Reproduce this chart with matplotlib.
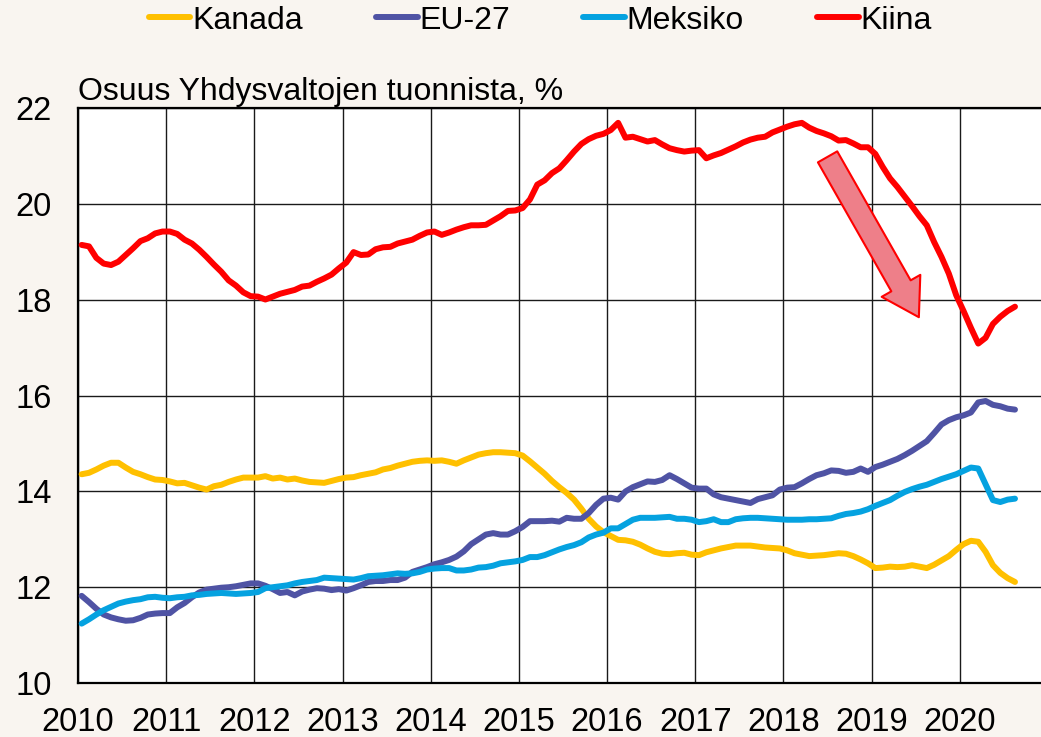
import matplotlib
matplotlib.use("Agg")
import matplotlib.pyplot as plt
import numpy as np

plt.rcParams['font.family'] = ['Liberation Sans', 'DejaVu Sans']

# kuukausittaiset osuudet 1/2010 - 8/2020
start_year = 2010
years = list(range(2010, 2021))

kanada = [
    14.36, 14.39, 14.46, 14.54, 14.60, 14.60, 14.50, 14.41, 14.36, 14.30, 14.25, 14.24,
    14.21, 14.17, 14.18, 14.13, 14.08, 14.04, 14.11, 14.14, 14.20, 14.25, 14.29, 14.29,
    14.29, 14.32, 14.27, 14.29, 14.25, 14.27, 14.23, 14.20, 14.19, 14.18, 14.22, 14.26,
    14.29, 14.30, 14.34, 14.37, 14.40, 14.46, 14.49, 14.54, 14.58, 14.62, 14.64, 14.65,
    14.64, 14.65, 14.62, 14.58, 14.65, 14.71, 14.77, 14.80, 14.82, 14.82, 14.81, 14.80,
    14.75, 14.63, 14.50, 14.37, 14.22, 14.09, 13.97, 13.83, 13.64, 13.43, 13.27, 13.15,
    13.07, 12.99, 12.98, 12.95, 12.89, 12.81, 12.74, 12.70, 12.69, 12.71, 12.72, 12.68,
    12.67, 12.73, 12.77, 12.81, 12.84, 12.87, 12.87, 12.87, 12.85, 12.83, 12.82, 12.81,
    12.77, 12.71, 12.68, 12.65, 12.66, 12.67, 12.69, 12.71, 12.70, 12.65, 12.58, 12.50,
    12.40, 12.41, 12.43, 12.42, 12.43, 12.46, 12.43, 12.40, 12.47, 12.56, 12.65, 12.78,
    12.90, 12.97, 12.95, 12.74, 12.46, 12.30, 12.19, 12.11,
]

eu27 = [
    11.82, 11.69, 11.55, 11.43, 11.37, 11.33, 11.30, 11.31, 11.36, 11.43, 11.45, 11.46,
    11.46, 11.58, 11.67, 11.79, 11.89, 11.95, 11.97, 11.99, 12.00, 12.02, 12.05, 12.08,
    12.08, 12.03, 11.96, 11.88, 11.90, 11.83, 11.91, 11.95, 11.98, 11.97, 11.94, 11.96,
    11.93, 11.98, 12.04, 12.11, 12.13, 12.13, 12.15, 12.15, 12.20, 12.32, 12.37, 12.42,
    12.48, 12.52, 12.57, 12.64, 12.75, 12.90, 13.00, 13.10, 13.13, 13.10, 13.10, 13.17,
    13.26, 13.38, 13.38, 13.38, 13.39, 13.37, 13.45, 13.43, 13.43, 13.55, 13.72, 13.85,
    13.87, 13.83, 14.00, 14.09, 14.15, 14.21, 14.20, 14.24, 14.34, 14.26, 14.17, 14.08,
    14.06, 14.06, 13.94, 13.88, 13.85, 13.82, 13.79, 13.76, 13.84, 13.88, 13.92, 14.04,
    14.08, 14.09, 14.17, 14.26, 14.34, 14.38, 14.44, 14.43, 14.39, 14.41, 14.48, 14.41,
    14.51, 14.56, 14.62, 14.68, 14.76, 14.85, 14.95, 15.05, 15.22, 15.40, 15.49, 15.55,
    15.59, 15.65, 15.86, 15.89, 15.81, 15.78, 15.73, 15.71,
]

meksiko = [
    11.24, 11.33, 11.43, 11.52, 11.59, 11.66, 11.70, 11.73, 11.75, 11.79, 11.80, 11.78,
    11.77, 11.79, 11.80, 11.83, 11.84, 11.86, 11.87, 11.88, 11.87, 11.86, 11.87, 11.88,
    11.90, 11.98, 12.00, 12.02, 12.04, 12.08, 12.11, 12.13, 12.15, 12.20, 12.19, 12.18,
    12.17, 12.16, 12.19, 12.23, 12.24, 12.25, 12.27, 12.29, 12.28, 12.29, 12.32, 12.37,
    12.39, 12.40, 12.40, 12.35, 12.35, 12.37, 12.41, 12.42, 12.45, 12.50, 12.52, 12.54,
    12.57, 12.63, 12.63, 12.67, 12.73, 12.79, 12.84, 12.88, 12.94, 13.04, 13.10, 13.14,
    13.23, 13.23, 13.32, 13.41, 13.45, 13.45, 13.45, 13.46, 13.47, 13.43, 13.43, 13.41,
    13.36, 13.38, 13.42, 13.36, 13.36, 13.42, 13.44, 13.45, 13.45, 13.44, 13.43, 13.42,
    13.41, 13.41, 13.41, 13.42, 13.42, 13.43, 13.44, 13.49, 13.53, 13.55, 13.58, 13.63,
    13.70, 13.76, 13.82, 13.91, 13.99, 14.05, 14.10, 14.14, 14.20, 14.26, 14.31, 14.36,
    14.43, 14.50, 14.48, 14.15, 13.82, 13.78, 13.83, 13.85,
]

kiina = [
    19.15, 19.12, 18.88, 18.76, 18.73, 18.80, 18.94, 19.08, 19.23, 19.29, 19.39, 19.43,
    19.43, 19.38, 19.26, 19.18, 19.05, 18.90, 18.74, 18.59, 18.41, 18.30, 18.16, 18.08,
    18.07, 18.01, 18.07, 18.13, 18.17, 18.21, 18.28, 18.30, 18.38, 18.45, 18.53, 18.66,
    18.78, 19.00, 18.94, 18.95, 19.06, 19.10, 19.11, 19.18, 19.22, 19.26, 19.34, 19.41,
    19.43, 19.36, 19.41, 19.47, 19.52, 19.56, 19.56, 19.57, 19.66, 19.75, 19.86, 19.87,
    19.92, 20.10, 20.41, 20.50, 20.65, 20.75, 20.92, 21.10, 21.26, 21.36, 21.43, 21.47,
    21.55, 21.70, 21.39, 21.41, 21.36, 21.31, 21.34, 21.25, 21.17, 21.13, 21.10, 21.12,
    21.13, 20.96, 21.02, 21.07, 21.14, 21.21, 21.29, 21.35, 21.39, 21.41, 21.50, 21.56,
    21.62, 21.67, 21.70, 21.60, 21.53, 21.48, 21.42, 21.33, 21.34, 21.27, 21.19, 21.19,
    21.05, 20.78, 20.54, 20.36, 20.16, 19.96, 19.75, 19.56, 19.21, 18.90, 18.55, 18.10,
    17.77, 17.42, 17.09, 17.21, 17.50, 17.65, 17.77, 17.86,
]

series_names = ["Kanada", "EU-27", "Meksiko", "Kiina"]
series_colors = ["#FFC000", "#4F53A4", "#05A2E0", "#FF0000"]

# nuolen alku- ja loppupiste (vuosi, %)
arrow_start = (2018.50, 20.99)
arrow_end = (2019.535, 17.64)


def main():
    bg = "#F9F5F0"
    fig = plt.figure(figsize=(10.41, 7.37), dpi=100, facecolor=bg)
    ax = fig.add_axes([0.0749, 0.0733, 0.9251, 0.7795])
    ax.set_facecolor("white")

    n = len(kiina)
    x = start_year + (np.arange(n) + 0.5) / 12

    for vals, name, col in zip([kanada, eu27, meksiko, kiina], series_names, series_colors):
        ax.plot(x, vals, color=col, lw=4.3, label=name, solid_capstyle="round",
                solid_joinstyle="round", zorder=3)

    # nuoli
    ax.annotate("", xy=arrow_end, xytext=arrow_start,
                arrowprops=dict(arrowstyle="simple,head_width=3.2,head_length=2.6,tail_width=1.6",
                                mutation_scale=10, fc="#EE7F89", ec="#FF0000", lw=1.5,
                                shrinkA=0, shrinkB=0),
                zorder=4)

    ax.set_xlim(2010, 2020.92)
    ax.set_ylim(10, 22)
    ax.set_xticks(years)
    ax.set_xticklabels([str(y) for y in years])
    ax.set_yticks(range(10, 23, 2))
    ax.tick_params(axis="both", length=0, labelsize=23.5)
    ax.tick_params(axis="x", pad=17)
    ax.tick_params(axis="y", pad=19)
    ax.grid(True, color="#1a1a1a", lw=1.0)
    ax.set_axisbelow(True)
    for side in ["left", "bottom", "top"]:
        ax.spines[side].set_linewidth(1.6)
        ax.spines[side].set_color("black")
    ax.spines["right"].set_visible(False)

    ax.text(0.0, 1.0148, "Osuus Yhdysvaltojen tuonnista, %", transform=ax.transAxes,
            fontsize=23, ha="left", va="baseline")

    fig.legend(loc="center", bbox_to_anchor=(0.519, 0.972), ncol=4, frameon=False,
               fontsize=23, handlelength=1.3, handletextpad=0.05, columnspacing=2.3)

    fig.savefig("out.png", dpi=100, facecolor=bg)


if __name__ == "__main__":
    main()
